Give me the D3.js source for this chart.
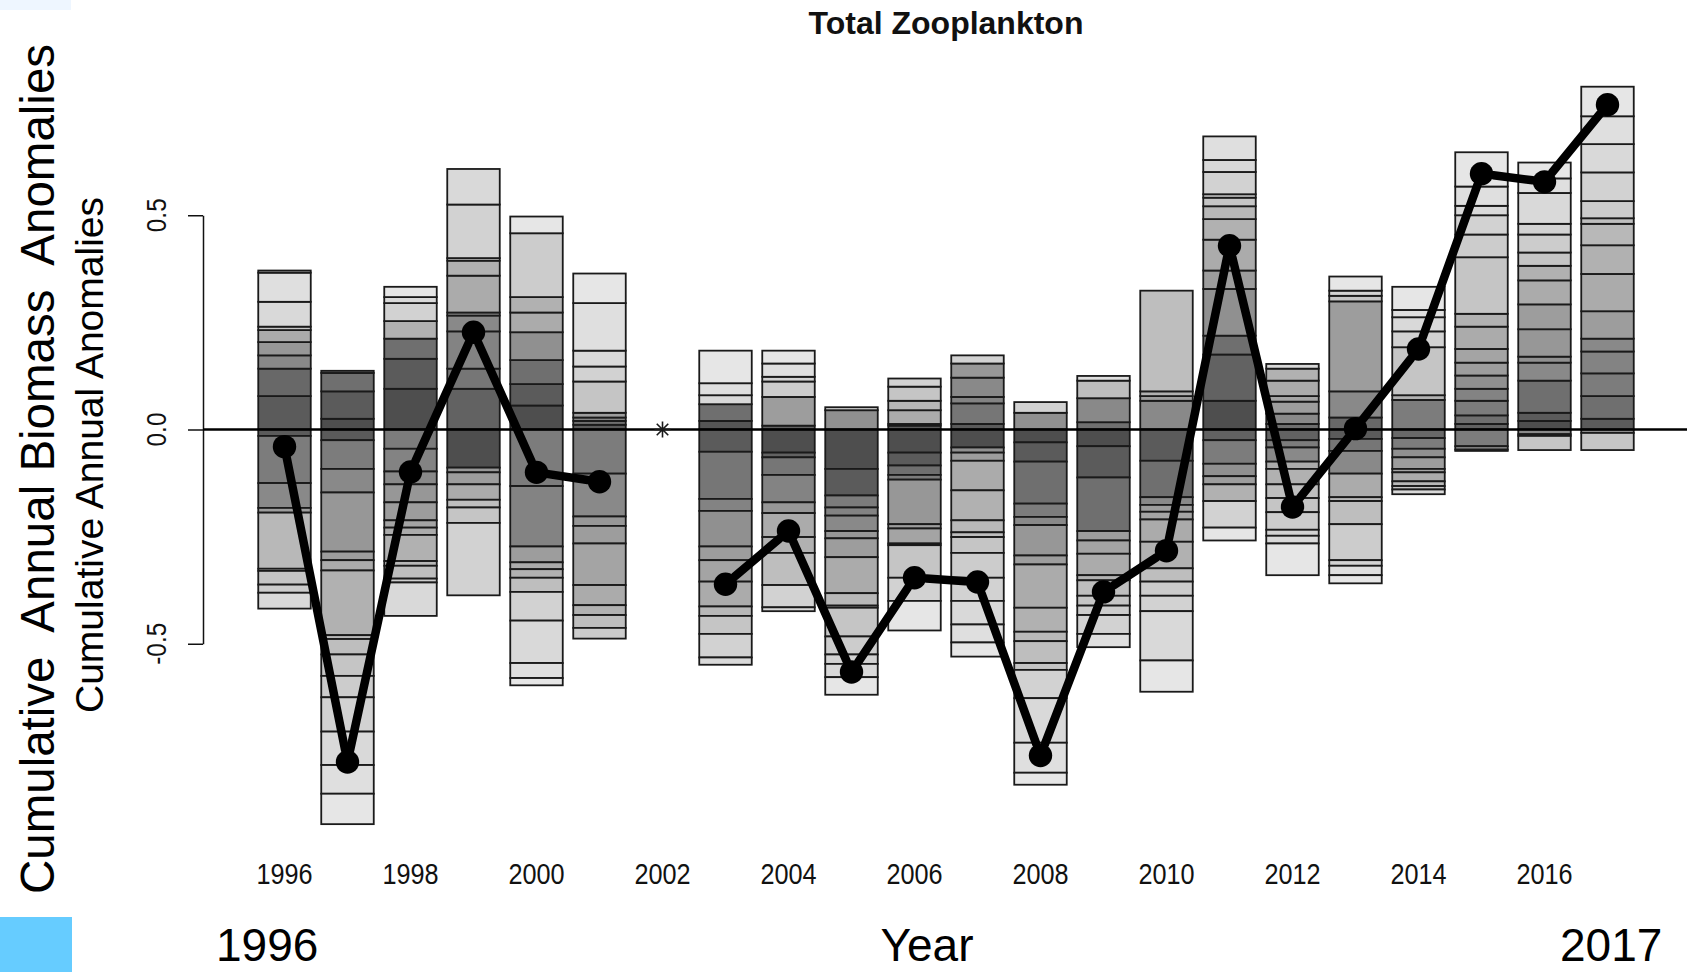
<!DOCTYPE html>
<html>
<head>
<meta charset="utf-8">
<script src="https://cdn.jsdelivr.net/npm/d3@7"></script>
<style>
html,body{margin:0;padding:0;background:#ffffff;}
svg{display:block;}
text{font-family:"Liberation Sans",Arial,sans-serif;}
</style>
</head>
<body>
<svg id="chart" width="1687" height="972"></svg>
<script>
// ---------------- DATA ----------------
const years = [1996,1997,1998,1999,2000,2001,2002,2003,2004,2005,2006,2007,2008,2009,2010,2011,2012,2013,2014,2015,2016,2017];

// net cumulative annual anomaly (line + dots); 2002 missing
const netAnomaly = [-0.040,-0.776,-0.099,0.227,-0.100,-0.122,null,-0.361,-0.237,-0.566,-0.346,-0.356,-0.761,-0.379,-0.283,0.429,-0.181,0.002,0.188,0.597,0.578,0.758];

// positive component anomalies, stacked upward from zero
const posSize = [
  [0.078,0.064,0.031,0.031,0.028,0.008,0.058,0.068,0.005],
  [0.025,0.064,0.043,0.005],
  [0.095,0.070,0.047,0.041,0.042,0.014,0.024],
  [0.095,0.047,0.087,0.037,0.007,0.086,0.035,0.006,0.125,0.083],
  [0.056,0.050,0.056,0.065,0.046,0.036,0.149,0.039],
  [0.011,0.009,0.008,0.011,0.073,0.035,0.037,0.111,0.069],
  [],
  [0.020,0.039,0.021,0.028,0.076],
  [0.009,0.067,0.036,0.011,0.031,0.030],
  [0.045,0.007],
  [0.009,0.004,0.032,0.022,0.033,0.019],
  [0.013,0.048,0.015,0.045,0.033,0.019],
  [0.039,0.025],
  [0.017,0.056,0.041,0.011],
  [0.067,0.011,0.011,0.235],
  [0.067,0.108,0.044,0.109,0.043,0.072,0.048,0.030,0.020,0.008,0.052,0.028,0.055],
  [0.013,0.024,0.028,0.013,0.036,0.028,0.011],
  [0.028,0.061,0.210,0.013,0.012,0.033],
  [0.069,0.011,0.112,0.037,0.033,0.017,0.054],
  [0.013,0.020,0.034,0.028,0.031,0.030,0.032,0.052,0.030,0.132,0.053,0.045,0.022,0.045,0.080],
  [0.020,0.019,0.075,0.042,0.014,0.064,0.058,0.056,0.034,0.031,0.042,0.025,0.072,0.034,0.037],
  [0.025,0.053,0.053,0.051,0.030,0.064,0.087,0.067,0.050,0.013,0.040,0.067,0.066,0.065,0.069]
];
// component (taxon) rank of each positive part, 0 = first taxon ... 23 = last
const posRank = [
  [2,4,9,11,14,18,21,22,23],
  [0,2,5,6],
  [0,2,5,15,20,21,23],
  [3,6,8,9,11,14,15,17,20,21],
  [0,2,5,10,14,15,19,23],
  [2,5,8,12,18,20,21,22,23],
  [],
  [1,5,21,22,23],
  [3,12,19,20,22,23],
  [10,20],
  [2,8,14,16,18,20],
  [2,6,8,9,11,20],
  [10,20],
  [5,9,17,22],
  [9,12,15,17],
  [0,3,5,10,12,14,15,16,18,19,20,21,22],
  [5,9,12,13,14,15,21],
  [4,9,12,18,20,23],
  [7,15,18,20,21,22,23],
  [3,5,7,8,10,12,13,14,15,18,19,20,21,22,23],
  [0,2,5,9,10,11,12,14,15,18,19,20,21,22,23],
  [2,5,7,8,9,12,14,15,16,17,19,20,21,22,23]
];

// negative component anomalies (magnitudes), stacked downward from zero
const negSize = [
  [0.015,0.110,0.058,0.011,0.131,0.005,0.032,0.019,0.037],
  [0.025,0.067,0.055,0.138,0.020,0.024,0.151,0.009,0.036,0.050,0.050,0.080,0.078,0.067,0.071],
  [0.045,0.053,0.030,0.042,0.042,0.017,0.017,0.061,0.011,0.030,0.009,0.078],
  [0.089,0.011,0.028,0.036,0.018,0.036,0.169],
  [0.132,0.141,0.037,0.016,0.020,0.033,0.067,0.099,0.035,0.017],
  [0.103,0.100,0.022,0.041,0.097,0.047,0.023,0.030,0.025],
  [],
  [0.052,0.110,0.028,0.083,0.032,0.050,0.058,0.022,0.042,0.055,0.017],
  [0.054,0.011,0.041,0.064,0.025,0.056,0.037,0.075,0.052,0.009],
  [0.092,0.062,0.028,0.019,0.036,0.017,0.044,0.084,0.029,0.005,0.067,0.042,0.022,0.031,0.041],
  [0.054,0.030,0.022,0.011,0.104,0.010,0.035,0.004,0.076,0.054,0.069],
  [0.042,0.012,0.019,0.069,0.070,0.028,0.011,0.037,0.058,0.054,0.055,0.042,0.033],
  [0.030,0.045,0.098,0.031,0.019,0.071,0.021,0.101,0.056,0.022,0.051,0.016,0.066,0.104,0.070,0.028],
  [0.039,0.073,0.125,0.022,0.031,0.050,0.012,0.036,0.023,0.022,0.044,0.031],
  [0.073,0.085,0.018,0.016,0.018,0.052,0.062,0.031,0.033,0.036,0.115,0.073],
  [0.025,0.055,0.029,0.019,0.039,0.062,0.030],
  [0.025,0.017,0.033,0.017,0.036,0.032,0.033,0.041,0.014,0.018,0.074],
  [0.022,0.028,0.053,0.055,0.009,0.054,0.084,0.013,0.022,0.019],
  [0.020,0.025,0.020,0.027,0.008,0.021,0.011,0.008,0.011],
  [0.039,0.008,0.003],
  [0.011,0.004,0.033],
  [0.008,0.040]
];
const negRank = [
  [2,7,9,12,16,17,18,19,21],
  [2,7,9,11,12,14,15,16,17,18,19,20,21,22,23],
  [7,8,9,11,12,13,14,15,16,17,19,21],
  [0,11,12,14,17,18,20],
  [7,8,12,14,15,17,20,21,22,23],
  [7,9,11,12,13,14,15,17,19],
  [],
  [2,6,8,10,12,13,14,16,18,20,21],
  [0,3,6,8,11,14,15,17,20,21],
  [0,2,7,8,9,11,12,14,16,17,18,19,20,21,23],
  [0,2,5,7,11,12,13,15,18,20,23],
  [0,10,12,14,15,16,17,18,19,20,21,22,23],
  [0,2,5,7,9,11,12,14,15,16,17,18,20,21,22,23],
  [0,2,5,12,13,14,15,17,18,19,20,22],
  [2,5,9,12,13,14,15,17,19,20,21,23],
  [3,7,10,12,15,20,23],
  [3,7,9,14,15,17,18,19,20,21,23],
  [2,6,9,14,16,17,19,20,22,23],
  [4,7,10,12,13,14,16,18,21],
  [7,9,0],
  [9,12,18],
  [9,18]
];

const xTickYears = [1996,1998,2000,2002,2004,2006,2008,2010,2012,2014,2016];
const yTickValues = [-0.5, 0, 0.5];
const yTickLabels = ["-0.5", "0.0", "0.5"];
const titleText = "Total Zooplankton";
const yLabelOuter = "Cumulative  Annual Biomass  Anomalies";
const yLabelInner = "Cumulative Annual Anomalies";
const xLabel = "Year";
const startLabel = "1996";
const endLabel = "2017";

// ---------------- DRAW ----------------
const svg = d3.select("#chart");
const x = d3.scaleLinear().domain([1996, 2017]).range([284.5, 1607.5]);
const y = d3.scaleLinear().domain([-0.5, 0.5]).range([643.75, 215.25]);
const barW = (x(1997) - x(1996)) / 1.2;
const shade = d3.scaleLinear().domain([0, 23]).range(["#4e4e4e", "#e6e6e6"]);

// decorative corner patches
svg.append("rect").attr("x",0).attr("y",0).attr("width",71).attr("height",10).attr("fill","#eef6ff");
svg.append("rect").attr("x",0).attr("y",917).attr("width",72).attr("height",55).attr("fill","#66ccff");

// stacked bars
const gBars = svg.append("g");
years.forEach((yr, i) => {
  let cum = 0;
  posSize[i].forEach((v, k) => {
    const a = cum, b = cum + v; cum = b;
    gBars.append("rect")
      .attr("x", x(yr) - barW/2).attr("width", barW)
      .attr("y", y(b)).attr("height", y(a) - y(b))
      .attr("fill", shade(posRank[i][k]))
      .attr("stroke", "#1a1a1a").attr("stroke-width", 1.8);
  });
  cum = 0;
  negSize[i].forEach((v, k) => {
    const a = -cum, b = -(cum + v); cum += v;
    gBars.append("rect")
      .attr("x", x(yr) - barW/2).attr("width", barW)
      .attr("y", y(a)).attr("height", y(b) - y(a))
      .attr("fill", shade(negRank[i][k]))
      .attr("stroke", "#1a1a1a").attr("stroke-width", 1.8);
  });
});

// y axis
const yAxis = d3.axisLeft(y).tickValues(yTickValues).tickSize(15).tickSizeOuter(0).tickFormat("");
const gy = svg.append("g").attr("transform", "translate(203,0)").call(yAxis);
gy.selectAll("path,line").attr("stroke", "#111").attr("stroke-width", 1.5);
yTickValues.forEach((t, i) => {
  svg.append("text")
    .attr("transform", `translate(166,${y(t)}) rotate(-90) scale(0.87,1)`)
    .attr("text-anchor", "middle")
    .attr("font-size", 28).attr("fill", "#111")
    .text(yTickLabels[i]);
});

// zero reference line
svg.append("line").attr("x1", 203).attr("x2", 1687).attr("y1", y(0)).attr("y2", y(0))
  .attr("stroke", "#000").attr("stroke-width", 2.6);

// missing year marker
const missing = years.filter((yr, i) => netAnomaly[i] === null);
missing.forEach(yr => {
  const cx = x(yr), cy = y(0), r = 8;
  const p = d3.path();
  p.moveTo(cx - r, cy); p.lineTo(cx + r, cy);
  p.moveTo(cx, cy - r); p.lineTo(cx, cy + r);
  p.moveTo(cx - r*0.72, cy - r*0.72); p.lineTo(cx + r*0.72, cy + r*0.72);
  p.moveTo(cx - r*0.72, cy + r*0.72); p.lineTo(cx + r*0.72, cy - r*0.72);
  svg.append("path").attr("d", p.toString()).attr("stroke", "#1a1a1a").attr("stroke-width", 1.6).attr("fill", "none");
});

// line (type "b": segments with gaps at points)
const gap = 12;
for (let i = 0; i < years.length - 1; i++) {
  const v0 = netAnomaly[i], v1 = netAnomaly[i+1];
  if (v0 === null || v1 === null) continue;
  const x0 = x(years[i]), y0 = y(v0), x1 = x(years[i+1]), y1 = y(v1);
  const dx = x1 - x0, dy = y1 - y0, L = Math.hypot(dx, dy);
  const ux = dx / L, uy = dy / L;
  svg.append("line")
    .attr("x1", x0 + ux*gap).attr("y1", y0 + uy*gap)
    .attr("x2", x1 - ux*gap).attr("y2", y1 - uy*gap)
    .attr("stroke", "#000").attr("stroke-width", 8.5).attr("stroke-linecap", "round");
}
svg.append("g").selectAll("circle")
  .data(years.map((yr, i) => ({yr, v: netAnomaly[i]})).filter(d => d.v !== null))
  .join("circle")
  .attr("cx", d => x(d.yr)).attr("cy", d => y(d.v)).attr("r", 11.7).attr("fill", "#000");

// x tick labels
svg.append("g").selectAll("text").data(xTickYears).join("text")
  .attr("transform", d => `translate(${x(d)},884) scale(0.87,1)`)
  .attr("text-anchor", "middle").attr("font-size", 29).attr("fill", "#111")
  .text(d => d);

// title
svg.append("text").attr("x", 946).attr("y", 33.5).attr("text-anchor", "middle")
  .attr("font-size", 32).attr("font-weight", "bold").attr("fill", "#111").text(titleText);

// y axis labels
svg.append("text").attr("transform", "translate(54,469) rotate(-90)")
  .attr("text-anchor", "middle").attr("font-size", 47.5).attr("fill", "#000")
  .style("white-space", "pre").text(yLabelOuter);
svg.append("text").attr("transform", "translate(103,455) rotate(-90)")
  .attr("text-anchor", "middle").attr("font-size", 39).attr("fill", "#000")
  .text(yLabelInner);

// bottom labels
svg.append("text").attr("x", 216).attr("y", 961).attr("font-size", 46).attr("fill", "#000").text(startLabel);
svg.append("text").attr("x", 927).attr("y", 961).attr("text-anchor", "middle").attr("font-size", 46).attr("fill", "#000").text(xLabel);
svg.append("text").attr("x", 1560).attr("y", 961).attr("font-size", 46).attr("fill", "#000").text(endLabel);
</script>
</body>
</html>
